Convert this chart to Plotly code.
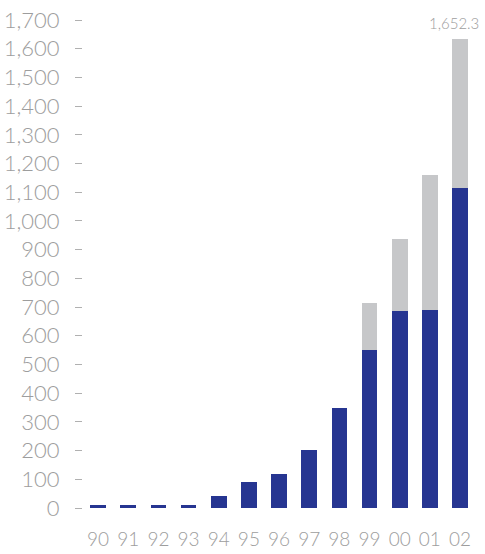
import plotly.graph_objects as go

years = ["90", "91", "92", "93", "94", "95", "96", "97", "98", "99", "00", "01", "02"]
base_values = [12, 12, 12, 12, 42, 90, 118, 201, 350, 552, 687, 690, 1114]
extra_values = [0, 0, 0, 0, 0, 0, 0, 0, 0, 163, 250, 470, 520]
total_label = "1,652.3"
y_ticks = list(range(0, 1701, 100))
y_ticktext = [f"{v:,}" for v in y_ticks]

BLUE = "#263591"
GREY = "#c6c7c9"
TXT = "#9d9d9d"
FONT = "Lato"

fig = go.Figure()
fig.add_trace(go.Bar(x=years, y=base_values, marker=dict(color=BLUE, line=dict(width=0)),
                     hoverinfo="skip"))
fig.add_trace(go.Bar(x=years, y=extra_values, marker=dict(color=GREY, line=dict(width=0)),
                     hoverinfo="skip"))

last = len(years) - 1
fig.add_annotation(x=last, y=base_values[last] + extra_values[last], text=total_label,
                   showarrow=False, yanchor="bottom", xanchor="center", xshift=-6, yshift=5,
                   font=dict(family=FONT, size=15, color=TXT, weight=300))

fig.update_layout(
    width=485, height=554,
    margin=dict(l=83, r=4, t=20, b=43),
    barmode="stack", bargap=0.48,
    showlegend=False,
    plot_bgcolor="white", paper_bgcolor="white",
    xaxis=dict(type="category", showgrid=False, showline=False, zeroline=False,
               ticks="", tickfont=dict(family=FONT, size=19, color=TXT, weight=300),
               ticklabelstandoff=18),
    yaxis=dict(range=[0, 1700], tickvals=y_ticks, ticktext=y_ticktext,
               showgrid=False, showline=False, zeroline=False,
               ticks="outside", ticklen=7, tickwidth=1, tickcolor="#b0b0b0",
               ticklabelstandoff=11,
               tickfont=dict(family=FONT, size=22, color=TXT, weight=300)),
)

fig.write_html("out.html")
